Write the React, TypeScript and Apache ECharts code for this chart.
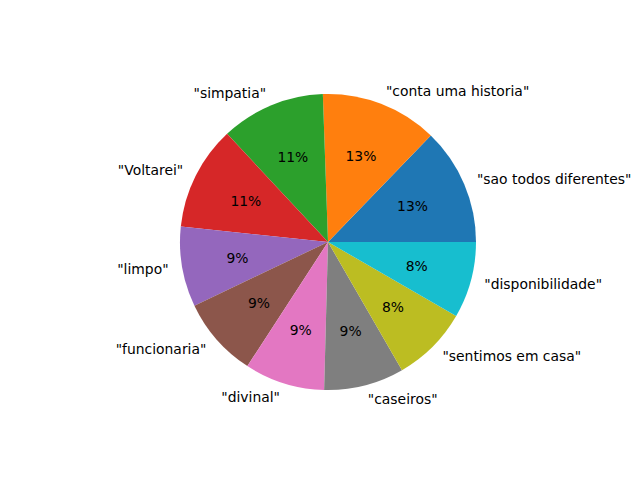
import React, { useEffect, useRef } from "react";
import * as echarts from "echarts";

const categories = [
  '"sao todos diferentes"',
  '"conta uma historia"',
  '"simpatia"',
  '"Voltarei"',
  '"limpo"',
  '"funcionaria"',
  '"divinal"',
  '"caseiros"',
  '"sentimos em casa"',
  '"disponibilidade"',
];
const values = [46, 46, 41, 41, 31.5, 31.5, 31.5, 31.5, 30, 30];
const colors = [
  "#1f77b4", "#ff7f0e", "#2ca02c", "#d62728", "#9467bd",
  "#8c564b", "#e377c2", "#7f7f7f", "#bcbd22", "#17becf",
];

const R = 148;
const CX = 328;
const CY = 242;
const FONT = "DejaVu Sans";

export default function App() {
  const ref = useRef<HTMLDivElement>(null);
  useEffect(() => {
    if (!ref.current) return;
    const chart = echarts.init(ref.current, null, { renderer: "svg" });
    const data = categories.map((name, i) => ({
      name,
      value: values[i],
      itemStyle: { color: colors[i] },
    }));
    const dataT = categories.map((name, i) => ({
      name,
      value: values[i],
      itemStyle: { color: "rgba(0,0,0,0)" },
    }));
    chart.setOption({
      animation: false,
      backgroundColor: "#ffffff",
      series: [
        {
          type: "pie",
          center: [CX, CY],
          radius: [0, R],
          startAngle: 0,
          clockwise: false,
          silent: true,
          avoidLabelOverlap: false,
          minAngle: 0,
          itemStyle: { borderWidth: 0 },
          label: {
            show: true,
            position: "outside",
            color: "#000",
            fontFamily: FONT,
            fontSize: 13.9,
            distanceToLabelLine: 0,
            formatter: (p: any) => p.name,
          },
          labelLine: { show: false, length: R * 0.1 - 1, length2: 0 },
          emphasis: { disabled: true },
          data,
        },
        {
          type: "pie",
          center: [CX, CY],
          radius: [0, R * 1.2],
          startAngle: 0,
          clockwise: false,
          silent: true,
          avoidLabelOverlap: false,
          itemStyle: { borderWidth: 0 },
          label: {
            show: true,
            position: "inside",
            color: "#000",
            fontFamily: FONT,
            fontSize: 13.9,
            formatter: (p: any) => Math.round(p.percent) + "%",
          },
          labelLine: { show: false },
          emphasis: { disabled: true },
          data: dataT,
        },
      ],
    });
    return () => chart.dispose();
  }, []);
  return (
    <div
      ref={ref}
      style={{ position: "fixed", left: 0, top: 0, width: 640, height: 480, background: "#fff" }}
    />
  );
}
